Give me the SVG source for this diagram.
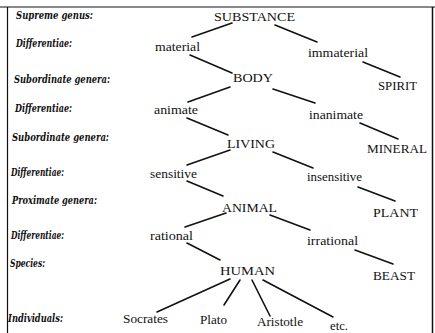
<svg xmlns="http://www.w3.org/2000/svg" width="435" height="333" viewBox="0 0 435 333">
<style>
.lab{font-style:italic;font-weight:bold;font-size:10.5px;fill:#111}
.t{font-size:13.5px;fill:#111}
.c line{stroke:#111;stroke-width:1.6;stroke-linecap:round}
</style>
<rect width="435" height="333" fill="#fff"/>
<g id="frame">
<line x1="0" y1="7" x2="435" y2="7" stroke="#888" stroke-width="2"/>
<line x1="7.5" y1="7" x2="7.5" y2="333" stroke="#111" stroke-width="1.2"/>
<line x1="432.5" y1="7" x2="432.5" y2="333" stroke="#111" stroke-width="1.5"/>
</g>
<g id="levels" font-family="DejaVu Serif, serif">
<text class="lab" x="16" y="19" textLength="77" lengthAdjust="spacingAndGlyphs">Supreme genus:</text>
<text class="lab" x="16" y="47" textLength="56" lengthAdjust="spacingAndGlyphs">Differentiae:</text>
<text class="lab" x="14" y="83" textLength="96" lengthAdjust="spacingAndGlyphs">Subordinate genera:</text>
<text class="lab" x="15" y="112" textLength="57" lengthAdjust="spacingAndGlyphs">Differentiae:</text>
<text class="lab" x="12" y="141" textLength="97" lengthAdjust="spacingAndGlyphs">Subordinate genera:</text>
<text class="lab" x="11" y="176" textLength="53" lengthAdjust="spacingAndGlyphs">Differentiae:</text>
<text class="lab" x="12" y="204" textLength="85" lengthAdjust="spacingAndGlyphs">Proximate genera:</text>
<text class="lab" x="11" y="239" textLength="53" lengthAdjust="spacingAndGlyphs">Differentiae:</text>
<text class="lab" x="10" y="267" textLength="35" lengthAdjust="spacingAndGlyphs">Species:</text>
<text class="lab" x="8" y="322" textLength="55" lengthAdjust="spacingAndGlyphs">Individuals:</text>
</g>
<g id="connectors" class="c">
<line x1="232" y1="23" x2="192" y2="37"/>
<line x1="275" y1="25" x2="317" y2="42"/>
<line x1="190" y1="55" x2="232" y2="73"/>
<line x1="363" y1="62" x2="400" y2="77"/>
<line x1="230" y1="87" x2="188" y2="102"/>
<line x1="273" y1="89" x2="315" y2="103"/>
<line x1="187" y1="118" x2="228" y2="135"/>
<line x1="360" y1="123" x2="398" y2="139"/>
<line x1="230" y1="150" x2="187" y2="165"/>
<line x1="273" y1="152" x2="313" y2="168"/>
<line x1="187" y1="181" x2="223" y2="196"/>
<line x1="358" y1="187" x2="395" y2="201"/>
<line x1="226" y1="213" x2="185" y2="227"/>
<line x1="270" y1="215" x2="310" y2="230"/>
<line x1="187" y1="243" x2="220" y2="260"/>
<line x1="355" y1="250" x2="393" y2="264"/>
<line x1="230" y1="279" x2="157" y2="312"/>
<line x1="240" y1="280" x2="224" y2="305"/>
<line x1="252" y1="280" x2="270" y2="316"/>
<line x1="263" y1="280" x2="333" y2="317"/>
</g>
<g id="nodes" font-family="Liberation Serif, serif">
<g id="substance"><text class="t" x="214" y="21" textLength="81" lengthAdjust="spacingAndGlyphs">SUBSTANCE</text></g>
<g id="material"><text class="t" x="155" y="51" textLength="45" lengthAdjust="spacingAndGlyphs">material</text></g>
<g id="immaterial"><text class="t" x="308" y="57" textLength="60" lengthAdjust="spacingAndGlyphs">immaterial</text></g>
<g id="body"><text class="t" x="233" y="82" textLength="40" lengthAdjust="spacingAndGlyphs">BODY</text></g>
<g id="spirit"><text class="t" x="378" y="90" textLength="39" lengthAdjust="spacingAndGlyphs">SPIRIT</text></g>
<g id="animate"><text class="t" x="154" y="114" textLength="44" lengthAdjust="spacingAndGlyphs">animate</text></g>
<g id="inanimate"><text class="t" x="309" y="119" textLength="54" lengthAdjust="spacingAndGlyphs">inanimate</text></g>
<g id="living"><text class="t" x="227" y="148" textLength="48" lengthAdjust="spacingAndGlyphs">LIVING</text></g>
<g id="mineral"><text class="t" x="367" y="153" textLength="60" lengthAdjust="spacingAndGlyphs">MINERAL</text></g>
<g id="sensitive"><text class="t" x="150" y="178" textLength="47" lengthAdjust="spacingAndGlyphs">sensitive</text></g>
<g id="insensitive"><text class="t" x="307" y="181" textLength="55" lengthAdjust="spacingAndGlyphs">insensitive</text></g>
<g id="animal"><text class="t" x="222" y="212" textLength="55" lengthAdjust="spacingAndGlyphs">ANIMAL</text></g>
<g id="plant"><text class="t" x="373" y="217" textLength="45" lengthAdjust="spacingAndGlyphs">PLANT</text></g>
<g id="rational"><text class="t" x="150" y="240" textLength="43" lengthAdjust="spacingAndGlyphs">rational</text></g>
<g id="irrational"><text class="t" x="307" y="245" textLength="51" lengthAdjust="spacingAndGlyphs">irrational</text></g>
<g id="human"><text class="t" x="220" y="275" textLength="55" lengthAdjust="spacingAndGlyphs">HUMAN</text></g>
<g id="beast"><text class="t" x="373" y="280" textLength="42" lengthAdjust="spacingAndGlyphs">BEAST</text></g>
<g id="socrates"><text class="t" x="123" y="323" textLength="45" lengthAdjust="spacingAndGlyphs">Socrates</text></g>
<g id="plato"><text class="t" x="200" y="324" textLength="27" lengthAdjust="spacingAndGlyphs">Plato</text></g>
<g id="aristotle"><text class="t" x="257" y="326" textLength="46" lengthAdjust="spacingAndGlyphs">Aristotle</text></g>
<g id="etc"><text class="t" x="330" y="330" textLength="18" lengthAdjust="spacingAndGlyphs">etc.</text></g>
</g>
</svg>
